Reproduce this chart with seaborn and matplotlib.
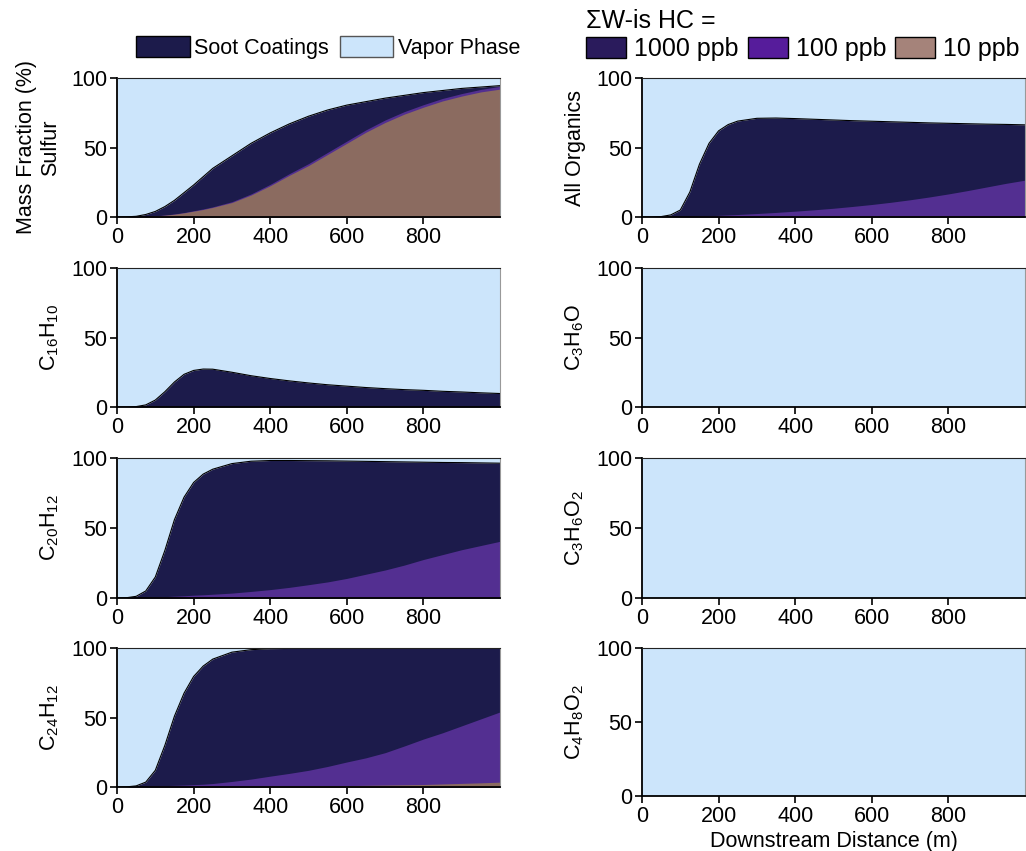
import seaborn as sns
import matplotlib.pyplot as plt
from matplotlib.patches import Patch

# downstream distance grid (m)
DIST = [0, 25, 50, 75, 100, 125, 150, 175, 200, 225, 250, 300, 350, 400,
        450, 500, 550, 600, 650, 700, 750, 800, 850, 900, 950, 1000]

# mass fraction on soot coatings (%), one series per sum W-is HC level
SULFUR_1000 = [0, 0.1, 0.5, 1.8, 4, 7.5, 12, 17.5, 23, 29, 35, 44, 53, 60.5,
               67, 72.5, 77, 80.5, 83, 85.5, 87.5, 89.5, 91, 92.5, 93.5, 94.5]
SULFUR_100 = [0, 0, 0.1, 0.3, 0.9, 1.4, 2.2, 3.2, 4.5, 5.8, 7.3, 11, 16.6, 23.5,
              31.2, 38.4, 46.5, 54.6, 62.7, 69.8, 75.8, 80.8, 85.3, 88.8, 91.8, 94]
SULFUR_10 = [0, 0, 0.1, 0.3, 0.8, 1.3, 2, 3, 4.2, 5.4, 6.9, 10.4, 15.8, 22.5,
             30, 37, 45, 53, 61, 68, 74, 79, 83.5, 87, 90, 92]

ORGANICS_1000 = [0, 0, 0.3, 1.5, 5, 18, 38, 53, 62, 66.5, 69, 71, 71.2, 70.8,
                 70.3, 69.8, 69.3, 68.9, 68.5, 68.1, 67.7, 67.4, 67.1, 66.8, 66.6, 66.3]
ORGANICS_100 = [0, 0, 0, 0, 0.2, 0.4, 0.6, 0.9, 1.2, 1.5, 1.8, 2.5, 3.3, 4.2,
                5.2, 6.3, 7.6, 9, 10.6, 12.4, 14.4, 16.6, 19, 21.6, 24.2, 26.5]

C16H10_1000 = [0, 0, 0.3, 1.5, 5, 11, 18, 23.5, 26.3, 27.3, 27.2, 25, 22.5, 20.5,
               18.8, 17.3, 16, 15, 14, 13.2, 12.5, 12, 11.3, 10.8, 10.2, 9.7]

C20H12_1000 = [0, 0.2, 1.2, 5, 15, 34, 56, 72, 82.5, 88.5, 92, 96, 97.7, 98.2,
               98.2, 98.1, 98, 97.8, 97.6, 97.4, 97.2, 97, 96.8, 96.7, 96.5, 96.3]
C20H12_100 = [0, 0, 0.3, 0.5, 0.8, 1, 1.3, 1.6, 2, 2.3, 2.7, 3.5, 4.7, 6,
              7.6, 9.5, 11.5, 14, 17, 20, 23.5, 27.5, 31, 34.5, 37.5, 40.5]

C24H12_1000 = [0, 0.1, 0.8, 3.5, 12, 30, 51, 67.5, 79.5, 87, 92, 97, 98.8, 99.5,
               99.7, 99.8, 99.8, 99.8, 99.9, 99.9, 99.9, 99.9, 99.9, 99.9, 99.9, 99.9]
C24H12_100 = [0, 0, 0.2, 0.5, 0.8, 1, 1.2, 1.4, 1.7, 2, 2.5, 4, 5.7, 7.8,
              9.8, 12, 14.8, 18, 21, 24.7, 29.5, 34.5, 39, 44, 49, 54]
C24H12_10 = [0, 0, 0, 0, 0.05, 0.1, 0.1, 0.15, 0.2, 0.25, 0.3, 0.35, 0.4, 0.5,
             0.6, 0.7, 0.85, 1, 1.2, 1.4, 1.6, 1.8, 2.2, 2.6, 3, 3.5]

# the light oxygenates stay fully in the vapor phase
NO_UPTAKE = [0, 0, 0, 0, 0, 0, 0, 0, 0, 0, 0, 0, 0, 0,
             0, 0, 0, 0, 0, 0, 0, 0, 0, 0, 0, 0]

VAPOR = "#cce5fb"
NAVY = "#1c1b4b"
PURPLE = "#532f91"
BROWN = "#8b6b60"

sns.set_theme(style="ticks")
plt.rcParams["font.family"] = ["Liberation Sans", "DejaVu Sans"]
plt.rcParams["font.size"] = 15.5
plt.rcParams["text.color"] = "black"
plt.rcParams["axes.labelcolor"] = "black"

W, H = 1026, 851
fig = plt.figure(figsize=(W / 100, H / 100), dpi=100)

# (left px, top px, bottom px, label, 1000 ppb, 100 ppb, 10 ppb)
panels = [
    (117, 78, 217, "Mass Fraction (%)\nSulfur", SULFUR_1000, SULFUR_100, SULFUR_10),
    (117, 268, 407, r"C$\mathregular{_{16}}$H$\mathregular{_{10}}$", C16H10_1000, NO_UPTAKE, NO_UPTAKE),
    (117, 458, 598, r"C$\mathregular{_{20}}$H$\mathregular{_{12}}$", C20H12_1000, C20H12_100, NO_UPTAKE),
    (117, 648, 787, r"C$\mathregular{_{24}}$H$\mathregular{_{12}}$", C24H12_1000, C24H12_100, C24H12_10),
    (642, 78, 217, "All Organics", ORGANICS_1000, ORGANICS_100, NO_UPTAKE),
    (642, 268, 407, r"C$\mathregular{_{3}}$H$\mathregular{_{6}}$O", NO_UPTAKE, NO_UPTAKE, NO_UPTAKE),
    (642, 458, 598, r"C$\mathregular{_{3}}$H$\mathregular{_{6}}$O$\mathregular{_{2}}$", NO_UPTAKE, NO_UPTAKE, NO_UPTAKE),
    (642, 648, 796, r"C$\mathregular{_{4}}$H$\mathregular{_{8}}$O$\mathregular{_{2}}$", NO_UPTAKE, NO_UPTAKE, NO_UPTAKE),
]

for i, (lx, top, bot, label, s1000, s100, s10) in enumerate(panels):
    ax = fig.add_axes([lx / W, 1 - bot / H, 383 / W, (bot - top) / H])
    ax.fill_between(DIST, s1000, 100, color=VAPOR, lw=0)
    ax.fill_between(DIST, 0, s1000, color=NAVY, lw=0)
    ax.fill_between(DIST, 0, s100, color=PURPLE, lw=0)
    ax.fill_between(DIST, 0, s10, color=BROWN, lw=0)
    sns.lineplot(x=DIST, y=s1000, ax=ax, color="black", lw=0.8)
    ax.set_xlim(0, 1000)
    ax.set_ylim(0, 100)
    ax.set_xticks([0, 200, 400, 600, 800])
    ax.set_yticks([0, 50, 100])
    ax.tick_params(direction="out", length=5, width=1.2, labelsize=15.5, pad=2,
                   color="black", labelcolor="black")
    for side in ["left", "bottom"]:
        ax.spines[side].set_color("black")
        ax.spines[side].set_linewidth(1.3)
    ax.spines["top"].set_color("#222222")
    ax.spines["top"].set_linewidth(0.8)
    ax.spines["right"].set_color("#999999")
    ax.spines["right"].set_linewidth(0.8)
    ax.set_ylabel(label, fontsize=15.5)
    ax.yaxis.set_label_coords(-0.146, 0.5)
    ax.set_xlabel("")
    if i == 7:
        ax.set_xlabel("Downstream Distance (m)", fontsize=15.5, labelpad=3)

left_handles = [
    Patch(facecolor=NAVY, edgecolor="black", lw=1, label="Soot Coatings"),
    Patch(facecolor=VAPOR, edgecolor="#555555", lw=1, label="Vapor Phase"),
]
fig.legend(handles=left_handles, loc="upper left", bbox_to_anchor=(136 / W, 1 - 36 / H),
           ncol=2, frameon=False, handlelength=2.5, handleheight=1.1, handletextpad=0.2,
           columnspacing=0.5, borderpad=0, borderaxespad=0, fontsize=15.5)

right_handles = [
    Patch(facecolor="#2a1b5c", edgecolor="black", lw=1, label="1000 ppb"),
    Patch(facecolor="#561c9b", edgecolor="black", lw=1, label="100 ppb"),
    Patch(facecolor="#a5837a", edgecolor="black", lw=1, label="10 ppb"),
]
fig.legend(handles=right_handles, loc="upper left", bbox_to_anchor=(586 / W, 1 - 9 / H),
           ncol=3, frameon=False, handlelength=1.6, handleheight=0.96, handletextpad=0.32,
           columnspacing=0.36, labelspacing=0.15, borderpad=0, borderaxespad=0, fontsize=18,
           title="\u03a3W-is HC =", title_fontsize=18, alignment="left")

fig.savefig("out.png", dpi=100)
